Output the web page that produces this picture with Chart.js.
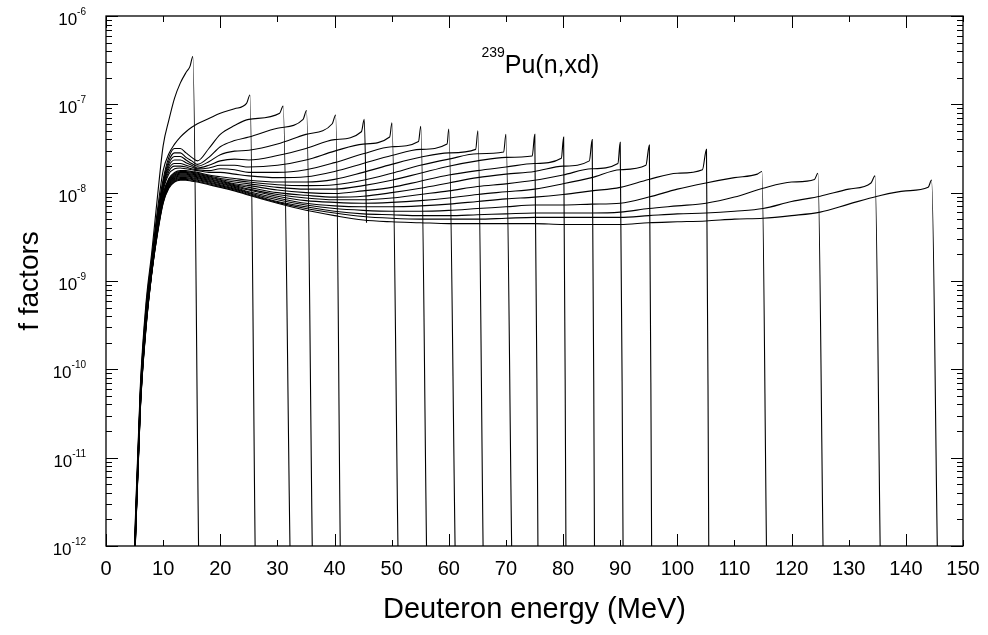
<!DOCTYPE html>
<html>
<head>
<meta charset="utf-8">
<title>239Pu(n,xd) f factors</title>
<script src="https://cdn.jsdelivr.net/npm/chart.js@4/dist/chart.umd.min.js"></script>
<style>
  html, body { margin: 0; padding: 0; background: #fff; }
  #wrap { width: 988px; height: 635px; }
</style>
</head>
<body>
<div id="wrap"><canvas id="chart" width="988" height="635"></canvas></div>
<script>
// Deuteron energy grid (MeV) shared by all curves
const gridEnergy = [5, 6, 7, 8, 9, 10, 11, 12, 13, 14, 15, 16, 18, 20, 22.5, 25, 30, 35, 40, 45,
  50, 55, 60, 65, 70, 75, 80, 85, 90, 95, 100, 105, 110, 115, 120, 125, 130, 135, 140];

// Incident neutron energies (MeV), one curve each
const incidentEnergy = [16, 26, 32, 36, 41, 46, 51, 56, 61, 66, 71, 76, 81, 86, 91, 96, 106, 116, 126, 136, 146];

// log10(f) along gridEnergy, up to the end-point peak of each curve
const logF16 = [-11.95, -10.2, -9.25, -8.68, -8.05, -7.47, -7.18, -6.93, -6.76, -6.64];
const logF26 = [-12.0, -10.25, -9.3, -8.74, -8.2, -7.75, -7.56, -7.45, -7.37, -7.31, -7.26, -7.22, -7.16, -7.1, -7.05];
const logF32 = [-12.05, -10.28, -9.35, -8.78, -8.25, -7.85, -7.6, -7.5, -7.5, -7.55, -7.6, -7.64, -7.5, -7.34, -7.24, -7.17];
const logF36 = [-12.07, -10.3, -9.37, -8.8, -8.28, -7.88, -7.64, -7.55, -7.55, -7.6, -7.64, -7.68, -7.6, -7.48, -7.41, -7.37, -7.27];
const logF41 = [-12.08, -10.31, -9.38, -8.81, -8.3, -7.9, -7.67, -7.59, -7.59, -7.63, -7.67, -7.7, -7.65, -7.57, -7.53, -7.52, -7.45, -7.34];
const logF46 = [-12.09, -10.32, -9.39, -8.82, -8.32, -7.92, -7.7, -7.63, -7.63, -7.66, -7.69, -7.72, -7.69, -7.64, -7.62, -7.63, -7.58, -7.5, -7.4];
const logF51 = [-12.1, -10.33, -9.4, -8.83, -8.33, -7.94, -7.73, -7.67, -7.67, -7.69, -7.71, -7.73, -7.72, -7.69, -7.69, -7.71, -7.69, -7.63, -7.53, -7.45];
const logF56 = [-12.11, -10.34, -9.41, -8.84, -8.34, -7.96, -7.76, -7.7, -7.7, -7.71, -7.73, -7.74, -7.75, -7.73, -7.74, -7.77, -7.77, -7.74, -7.66, -7.56, -7.48];
const logF61 = [-12.12, -10.35, -9.42, -8.85, -8.35, -7.98, -7.79, -7.73, -7.72, -7.73, -7.74, -7.75, -7.77, -7.77, -7.79, -7.81, -7.83, -7.82, -7.76, -7.67, -7.58, -7.51];
const logF66 = [-12.13, -10.36, -9.43, -8.86, -8.36, -8.01, -7.84, -7.77, -7.75, -7.75, -7.76, -7.77, -7.8, -7.82, -7.84, -7.86, -7.88, -7.88, -7.85, -7.77, -7.68, -7.6, -7.55];
const logF71 = [-12.14, -10.37, -9.44, -8.87, -8.37, -8.02, -7.85, -7.78, -7.76, -7.76, -7.77, -7.78, -7.81, -7.84, -7.86, -7.88, -7.91, -7.92, -7.91, -7.86, -7.78, -7.69, -7.62, -7.56];
const logF76 = [-12.15, -10.38, -9.45, -8.88, -8.38, -8.03, -7.86, -7.79, -7.77, -7.77, -7.78, -7.79, -7.82, -7.85, -7.88, -7.9, -7.94, -7.96, -7.96, -7.92, -7.86, -7.78, -7.7, -7.64, -7.6];
const logF81 = [-12.16, -10.39, -9.46, -8.88, -8.39, -8.04, -7.87, -7.8, -7.78, -7.78, -7.79, -7.8, -7.83, -7.86, -7.9, -7.92, -7.97, -8.0, -8.01, -7.98, -7.94, -7.87, -7.8, -7.75, -7.71, -7.67];
const logF86 = [-12.17, -10.4, -9.47, -8.89, -8.4, -8.05, -7.88, -7.81, -7.79, -7.79, -7.8, -7.81, -7.84, -7.87, -7.91, -7.94, -8.0, -8.03, -8.05, -8.04, -8.0, -7.95, -7.89, -7.83, -7.79, -7.76, -7.7];
const logF91 = [-12.18, -10.41, -9.48, -8.89, -8.41, -8.06, -7.89, -7.82, -7.8, -7.8, -7.81, -7.82, -7.85, -7.88, -7.92, -7.96, -8.02, -8.06, -8.08, -8.08, -8.06, -8.02, -7.98, -7.93, -7.9, -7.86, -7.8, -7.73];
const logF96 = [-12.19, -10.42, -9.49, -8.9, -8.42, -8.07, -7.9, -7.83, -7.81, -7.81, -7.82, -7.83, -7.86, -7.89, -7.93, -7.97, -8.04, -8.09, -8.11, -8.12, -8.11, -8.09, -8.06, -8.02, -7.99, -7.96, -7.9, -7.83, -7.74];
const logF106 = [-12.2, -10.43, -9.5, -8.9, -8.43, -8.08, -7.91, -7.84, -7.82, -7.82, -7.83, -7.84, -7.87, -7.9, -7.94, -7.99, -8.06, -8.12, -8.15, -8.16, -8.16, -8.15, -8.13, -8.1, -8.07, -8.05, -8.02, -7.98, -7.94, -7.85, -7.78];
const logF116 = [-12.21, -10.44, -9.51, -8.91, -8.44, -8.09, -7.92, -7.85, -7.83, -7.83, -7.84, -7.85, -7.88, -7.91, -7.95, -8.0, -8.08, -8.14, -8.18, -8.2, -8.21, -8.21, -8.2, -8.18, -8.16, -8.14, -8.14, -8.13, -8.12, -8.05, -7.96, -7.89, -7.83];
const logF126 = [-12.22, -10.45, -9.52, -8.91, -8.45, -8.1, -7.93, -7.86, -7.84, -7.84, -7.85, -7.86, -7.89, -7.92, -7.96, -8.01, -8.1, -8.16, -8.21, -8.24, -8.25, -8.26, -8.26, -8.25, -8.24, -8.23, -8.23, -8.23, -8.22, -8.18, -8.15, -8.12, -8.05, -7.95, -7.88];
const logF136 = [-12.23, -10.46, -9.53, -8.92, -8.46, -8.11, -7.94, -7.87, -7.85, -7.85, -7.86, -7.87, -7.9, -7.93, -7.97, -8.02, -8.11, -8.18, -8.23, -8.27, -8.29, -8.3, -8.3, -8.3, -8.29, -8.28, -8.28, -8.28, -8.28, -8.26, -8.24, -8.23, -8.21, -8.18, -8.1, -8.04, -7.96];
const logF146 = [-12.24, -10.47, -9.54, -8.92, -8.47, -8.12, -7.95, -7.88, -7.86, -7.86, -7.87, -7.88, -7.91, -7.94, -7.98, -8.03, -8.12, -8.2, -8.26, -8.31, -8.33, -8.34, -8.35, -8.35, -8.35, -8.35, -8.36, -8.36, -8.36, -8.34, -8.33, -8.32, -8.3, -8.29, -8.26, -8.22, -8.13, -8.04, -7.98];

const logFCurves = [logF16, logF26, logF32, logF36, logF41, logF46, logF51, logF56, logF61, logF66, logF71,
  logF76, logF81, logF86, logF91, logF96, logF106, logF116, logF126, logF136, logF146];

// Foot of the end-point peak, the peak itself and the cut-off of each curve
const peakFootEnergy = [14.7, 24.6, 30.4, 34.5, 39.6, 44.7, 49.65, 54.7, 59.7, 64.7, 69.6, 74.6, 79.7, 84.6, 89.6, 94.5, 104.4, 114.0, 124.0, 133.9, 143.9];
const peakFootLogF = [-6.57, -6.99, -7.1, -7.17, -7.22, -7.31, -7.37, -7.42, -7.45, -7.51, -7.54, -7.585, -7.61, -7.64, -7.67, -7.69, -7.74, -7.79, -7.85, -7.89, -7.94];
const peakEnergy = [15.2, 25.2, 31.0, 35.1, 40.2, 45.2, 50.05, 55.1, 60.0, 65.1, 70.0, 75.05, 80.1, 85.1, 90.0, 95.1, 105.1, 114.8, 124.6, 134.6, 144.5];
const peakLogF = [-6.46, -6.895, -7.02, -7.07, -7.12, -7.17, -7.21, -7.25, -7.28, -7.3, -7.34, -7.34, -7.37, -7.4, -7.43, -7.46, -7.51, -7.76, -7.78, -7.81, -7.857];
const cutoffEnergy = [16.2, 26.1, 32.2, 36.1, 41.0, 45.6, 51.1, 56.1, 61.1, 66.0, 71.0, 75.6, 80.5, 85.5, 90.5, 95.5, 105.5, 115.6, 125.5, 135.5, 145.5];
const cutoffLogF = [-12, -12, -12, -12, -12, -8.34, -12, -12, -12, -12, -12, -12, -12, -12, -12, -12, -12, -12, -12, -12, -12];

// Axis ticks
const energyTicks = [0, 10, 20, 30, 40, 50, 60, 70, 80, 90, 100, 110, 120, 130, 140, 150];
const decadeExponents = [-12, -11, -10, -9, -8, -7, -6];

const FONT = "'Liberation Sans', Arial, Helvetica, sans-serif";
Chart.defaults.font.family = FONT;
Chart.defaults.color = '#000';

const datasets = logFCurves.map((logF, i) => {
  const points = logF.map((v, k) => ({ x: gridEnergy[k], y: Math.pow(10, v) }));
  points.push({ x: peakFootEnergy[i], y: Math.pow(10, peakFootLogF[i]) });
  points.push({ x: peakEnergy[i], y: Math.pow(10, peakLogF[i]) });
  points.push({ x: cutoffEnergy[i], y: Math.pow(10, cutoffLogF[i]) });
  return {
    label: 'En = ' + incidentEnergy[i] + ' MeV',
    data: points,
    borderColor: '#000',
    borderWidth: 1.1,
    pointRadius: 0,
    fill: false,
    cubicInterpolationMode: 'monotone'
  };
});

// Frame with inward ticks on all four sides, power-of-ten labels and the reaction label
const axesFrame = {
  id: 'axesFrame',
  afterDatasetsDraw(chart) {
    const { ctx, chartArea: a, scales } = chart;
    const xs = scales.x, ys = scales.y;
    ctx.save();
    ctx.strokeStyle = '#000';
    ctx.lineWidth = 1;
    ctx.beginPath();
    energyTicks.forEach(v => {
      const px = Math.round(xs.getPixelForValue(v)) + 0.5;
      const len = v % 20 === 0 ? 12 : 6;
      ctx.moveTo(px, a.bottom); ctx.lineTo(px, a.bottom - len);
      ctx.moveTo(px, a.top); ctx.lineTo(px, a.top + len);
    });
    decadeExponents.forEach(d => {
      for (let m = 1; m <= 9; m++) {
        if (d === -6 && m > 1) break;
        const py = Math.round(ys.getPixelForValue(m * Math.pow(10, d))) + 0.5;
        const len = m === 1 ? 12 : 6;
        ctx.moveTo(a.left, py); ctx.lineTo(a.left + len, py);
        ctx.moveTo(a.right, py); ctx.lineTo(a.right - len, py);
      }
    });
    ctx.stroke();
    ctx.lineWidth = 1.3;
    ctx.strokeRect(a.left, a.top, a.right - a.left, a.bottom - a.top);

    // y tick labels: 10 with superscript exponent
    ctx.fillStyle = '#000';
    ctx.textAlign = 'right';
    ctx.textBaseline = 'alphabetic';
    const labelRight = a.left - 20;
    decadeExponents.forEach(d => {
      const py = ys.getPixelForValue(Math.pow(10, d));
      const sup = '-' + String(-d);
      ctx.font = '10px ' + FONT;
      const supW = ctx.measureText(sup).width;
      ctx.fillText(sup, labelRight, py - 1);
      ctx.font = '17px ' + FONT;
      ctx.fillText('10', labelRight - supW, py + 9);
    });

    // reaction label
    const lx = xs.getPixelForValue(69.8);
    const ly = ys.getPixelForValue(2.28e-7);
    ctx.textAlign = 'right';
    ctx.font = '14px ' + FONT;
    ctx.fillText('239', lx, ly - 16);
    ctx.textAlign = 'left';
    ctx.font = '25px ' + FONT;
    ctx.fillText('Pu(n,xd)', lx, ly);
    ctx.restore();
  }
};

new Chart(document.getElementById('chart'), {
  type: 'line',
  data: { datasets },
  options: {
    responsive: false,
    animation: false,
    devicePixelRatio: 1,
    layout: { padding: { top: 16, right: 25, bottom: 0, left: 0 } },
    plugins: { legend: { display: false }, tooltip: { enabled: false } },
    scales: {
      x: {
        type: 'linear',
        min: 0,
        max: 150,
        grid: { display: false, drawTicks: false },
        border: { display: false },
        ticks: { stepSize: 10, font: { size: 20 }, color: '#000', padding: 11, maxRotation: 0, autoSkip: false },
        title: { display: true, text: 'Deuteron energy (MeV)', font: { size: 29 }, color: '#000', padding: { top: 0, bottom: 8 } },
        afterFit(scale) { scale.height = 89; scale.paddingLeft = 0; scale.paddingRight = 0; }
      },
      y: {
        type: 'logarithmic',
        min: 1e-12,
        max: 1e-6,
        grid: { display: false },
        border: { display: false },
        ticks: { display: false },
        title: { display: true, text: 'f factors', font: { size: 28 }, color: '#000', padding: { top: 13, bottom: 0 } },
        afterFit(scale) { scale.width = 106; scale.paddingTop = 0; scale.paddingBottom = 0; }
      }
    }
  },
  plugins: [axesFrame]
});
</script>
</body>
</html>
